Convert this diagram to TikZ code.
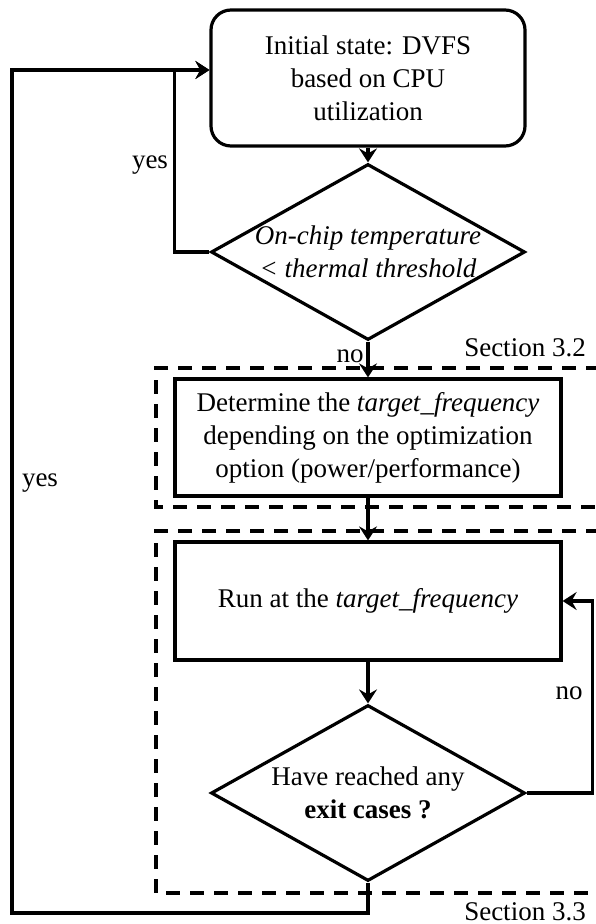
\documentclass[tikz,border=0pt]{standalone}
\usepackage{fontspec}
\setmainfont{Liberation Serif}
\usetikzlibrary{positioning,shapes.geometric,arrows.meta}

\begin{document}
\begin{tikzpicture}[x=0.5pt,y=-0.5pt,
    font=\fontsize{13.5}{16.5}\selectfont,
    line width=1.6pt,
    flow/.style={-{Stealth[length=7pt,width=9pt,inset=2.5pt]}},
    stepbox/.style={draw,rectangle,align=center,minimum width=193pt,minimum height=59pt,inner sep=0pt},
    startbox/.style={draw,rectangle,rounded corners=10pt,align=center,minimum width=157pt,minimum height=68pt,inner sep=0pt},
    choice/.style={draw,diamond,align=center,inner sep=-20pt,minimum width=157pt,minimum height=88pt},
    region/.style={line width=1.6pt,dash pattern=on 7pt off 5pt}]
    \useasboundingbox (0,0) rectangle (595,924);

    \node[startbox] at (368,78)(init) {Initial state: DVFS\\based on CPU\\utilization};
    \node[choice] at (368,252)(temp) {\itshape On-chip temperature\\\itshape < thermal threshold};
    \node[stepbox,minimum height=58.5pt] at (368,437.5)(target) {Determine the \textit{target\_frequency}\\depending on the optimization\\option (power/performance)};
    \node[stepbox] at (368,601)(run) {Run at the \textit{target\_frequency}};
    \node[choice] at (368,793)(exit) {Have reached any\\\textbf{exit cases ?}};

    % dashed sections
    \draw[region] (600,368) -| (156,507) -- (600,507);
    \draw[region] (600,531) -| (156,893) -- (600,893);
    \node[anchor=east] at (594,348)(sec32) {Section 3.2};
    \node[anchor=east] at (594,912)(sec33) {Section 3.3};

    \draw[flow] (init) -- (temp);
    \draw[flow] (temp) -- (target) node[pos=0.4,left=-2pt](no1) {no};
    \draw[flow] (target) -- (run);
    \draw[flow] (run) -- (exit);
    \draw[flow] (temp.west) -- ++(-35,0) |- ([yshift=4pt]init.west);
    \draw[flow] (exit.south) |- (12,913) |- ([yshift=4pt]init.west);
    \draw[flow] (exit.east) -- ++(66,0) |- (run.east);

    \node at (150,165)(yes1) {yes};
    \node at (40,483)(yes2) {yes};
    \node at (569,693)(no2) {no};
\end{tikzpicture}
\end{document}
